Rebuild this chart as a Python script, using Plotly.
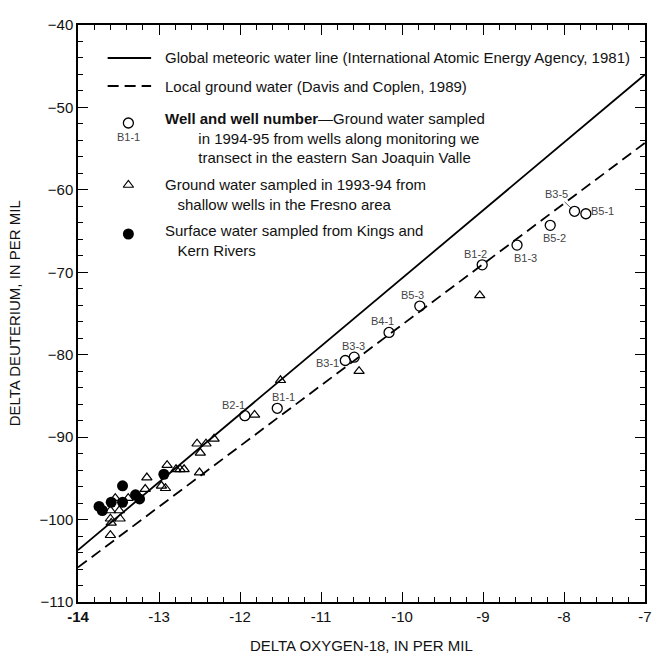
import plotly.graph_objects as go

# ---- data ----
well_names = ["B2-1", "B1-1", "B3-1", "B3-3", "B4-1", "B5-3", "B1-2", "B1-3", "B5-2", "B3-5", "B5-1"]
well_d18o = [-11.94, -11.54, -10.70, -10.59, -10.16, -9.78, -9.01, -8.58, -8.17, -7.87, -7.73]
well_dD = [-87.4, -86.5, -80.7, -80.3, -77.3, -74.1, -69.1, -66.7, -64.3, -62.6, -62.9]

gw_d18o = [-13.54, -13.60, -13.49, -13.60, -13.59, -13.48, -13.60, -13.38, -13.15, -13.17,
           -12.97, -12.92, -12.90, -12.79, -12.74, -12.69, -12.53, -12.42, -12.32, -12.49,
           -12.50, -11.82, -11.50, -10.53, -9.04]
gw_dD = [-97.4, -98.9, -98.9, -99.9, -100.4, -99.9, -101.9, -97.4, -94.9, -96.3,
         -95.9, -96.2, -93.4, -93.9, -93.9, -93.9, -90.8, -90.8, -90.2, -91.9,
         -94.3, -87.3, -83.1, -82.0, -72.8]

sw_d18o = [-13.74, -13.70, -13.59, -13.45, -13.45, -13.29, -13.24, -12.94]
sw_dD = [-98.4, -98.9, -97.9, -95.9, -97.9, -97.0, -97.5, -94.5]

line_d18o = [-14, -7]
gmwl_dD = [-103.7, -46.0]
local_dD = [-105.8, -54.3]

x_ticks = [-14, -13, -12, -11, -10, -9, -8, -7]
x_ticktext = ["<b>-14</b>", "-13", "-12", "-11", "-10", "-9", "-8", "-7"]
y_ticks = [-110, -100, -90, -80, -70, -60, -50, -40]

# label offsets in pixels (dx right, dy down)
label_off = {"B2-1": (-11, -11), "B1-1": (6, -11), "B3-1": (-18, 3), "B3-3": (-1, -11),
             "B4-1": (-7, -11), "B5-3": (-7, -11), "B1-2": (-7, -11), "B1-3": (8, 13),
             "B5-2": (4, 13), "B5-1": (17, -3)}

FONT = "Liberation Sans, Arial, sans-serif"

fig = go.Figure()
fig.add_trace(go.Scatter(x=line_d18o, y=gmwl_dD, mode="lines",
                         line=dict(color="black", width=1.8), hoverinfo="skip"))
fig.add_trace(go.Scatter(x=line_d18o, y=local_dD, mode="lines",
                         line=dict(color="black", width=1.8, dash="11px,6px"), hoverinfo="skip"))
fig.add_trace(go.Scatter(x=gw_d18o, y=gw_dD, mode="markers",
                         marker=dict(symbol="triangle-up-open", size=9, color="black",
                                     line=dict(width=1.2, color="black"))))
fig.add_trace(go.Scatter(x=sw_d18o, y=sw_dD, mode="markers",
                         marker=dict(symbol="circle", size=11, color="black")))
fig.add_trace(go.Scatter(x=well_d18o, y=well_dD, mode="markers",
                         marker=dict(symbol="circle-open", size=10, color="black",
                                     line=dict(width=1.3, color="black"))))

annotations = []
for n, xv, yv in zip(well_names, well_d18o, well_dD):
    if n == "B3-5":
        annotations.append(dict(x=xv, y=yv, xref="x", yref="y", text=n, showarrow=True,
                                arrowhead=0, arrowwidth=0.8, arrowcolor="#333", ax=-18, ay=-17,
                                standoff=4, font=dict(family=FONT, size=11, color="#444")))
    else:
        dx, dy = label_off[n]
        annotations.append(dict(x=xv, y=yv, xref="x", yref="y", text=n, showarrow=False,
                                xshift=dx, yshift=-dy,
                                font=dict(family=FONT, size=11, color="#444")))

# ---- legend (manual, in overlay axes spanning plot area 0..1) ----
L, T, W, H = 78, 25, 574, 577
def px(X):
    return (X - L) / W
def py(Y):
    return 1 - (Y - T) / H

fig.add_trace(go.Scatter(x=[px(108), px(152)], y=[py(58), py(58)], xaxis="x2", yaxis="y2",
                         mode="lines", line=dict(color="black", width=1.8), hoverinfo="skip"))
fig.add_trace(go.Scatter(x=[px(108), px(152)], y=[py(86), py(86)], xaxis="x2", yaxis="y2",
                         mode="lines", line=dict(color="black", width=1.8, dash="11px,6px"),
                         hoverinfo="skip"))
fig.add_trace(go.Scatter(x=[px(129)], y=[py(123)], xaxis="x2", yaxis="y2", mode="markers",
                         marker=dict(symbol="circle-open", size=10, color="black",
                                     line=dict(width=1.3, color="black"))))
fig.add_trace(go.Scatter(x=[px(129)], y=[py(185)], xaxis="x2", yaxis="y2", mode="markers",
                         marker=dict(symbol="triangle-up-open", size=9, color="black",
                                     line=dict(width=1.2, color="black"))))
fig.add_trace(go.Scatter(x=[px(129)], y=[py(234)], xaxis="x2", yaxis="y2", mode="markers",
                         marker=dict(symbol="circle", size=11, color="black")))

NB = "\u00a0"
legend_text = [
    (164, 58, "Global meteoric water line (International Atomic Energy Agency, 1981)"),
    (164, 86, "Local ground water (Davis and Coplen, 1989)"),
    (164, 137.5, "<b>Well and well number</b>\u2014Ground water sampled<br>"
                 + NB * 8 + "in 1994-95 from wells along monitoring we<br>"
                 + NB * 8 + "transect in the eastern San Joaquin Valle"),
    (164, 194.5, "Ground water sampled in 1993-94 from<br>"
                 + NB * 3 + "shallow wells in the Fresno area"),
    (164, 240.5, "Surface water sampled from Kings and<br>" + NB * 3 + "Kern Rivers"),
]
for X, Y, t in legend_text:
    annotations.append(dict(x=px(X), y=py(Y), xref="paper", yref="paper", text=t,
                            xanchor="left", yanchor="middle", align="left", showarrow=False,
                            font=dict(family=FONT, size=15, color="#111")))
annotations.append(dict(x=px(129), y=py(137), xref="paper", yref="paper", text="B1-1",
                        xanchor="center", yanchor="middle", showarrow=False,
                        font=dict(family=FONT, size=11, color="#444")))

# axis titles
annotations.append(dict(x=0.5, y=py(645), xref="paper", yref="paper",
                        text="DELTA OXYGEN-18, IN PER MIL", showarrow=False,
                        xanchor="center", yanchor="middle",
                        font=dict(family=FONT, size=15, color="#111")))
annotations.append(dict(x=px(14), y=0.5, xref="paper", yref="paper",
                        text="DELTA DEUTERIUM, IN PER MIL", showarrow=False, textangle=-90,
                        xanchor="center", yanchor="middle",
                        font=dict(family=FONT, size=15, color="#111")))

axis_common = dict(showgrid=False, zeroline=False, showline=True, linecolor="black",
                   linewidth=1.5, ticks="inside", ticklen=10, tickwidth=1.2, tickcolor="black",
                   mirror="allticks", tickfont=dict(family=FONT, size=15, color="#111"))

fig.update_layout(
    width=658, height=658,
    margin=dict(l=L, r=658 - L - W, t=T, b=658 - T - H),
    paper_bgcolor="white", plot_bgcolor="white",
    showlegend=False,
    xaxis=dict(range=[-14, -7], tickvals=x_ticks, ticktext=x_ticktext,
               minor=dict(dtick=0.2, tick0=-14, ticks="inside", ticklen=5, tickcolor="black", tickwidth=1.2),
               **axis_common),
    yaxis=dict(range=[-110, -40], tickvals=y_ticks,
               minor=dict(dtick=2, tick0=-110, ticks="inside", ticklen=5, tickcolor="black", tickwidth=1.2),
               **axis_common),
    xaxis2=dict(overlaying="x", range=[0, 1], visible=False),
    yaxis2=dict(overlaying="y", range=[0, 1], visible=False),
    annotations=annotations,
)

fig.write_html("out.html")
